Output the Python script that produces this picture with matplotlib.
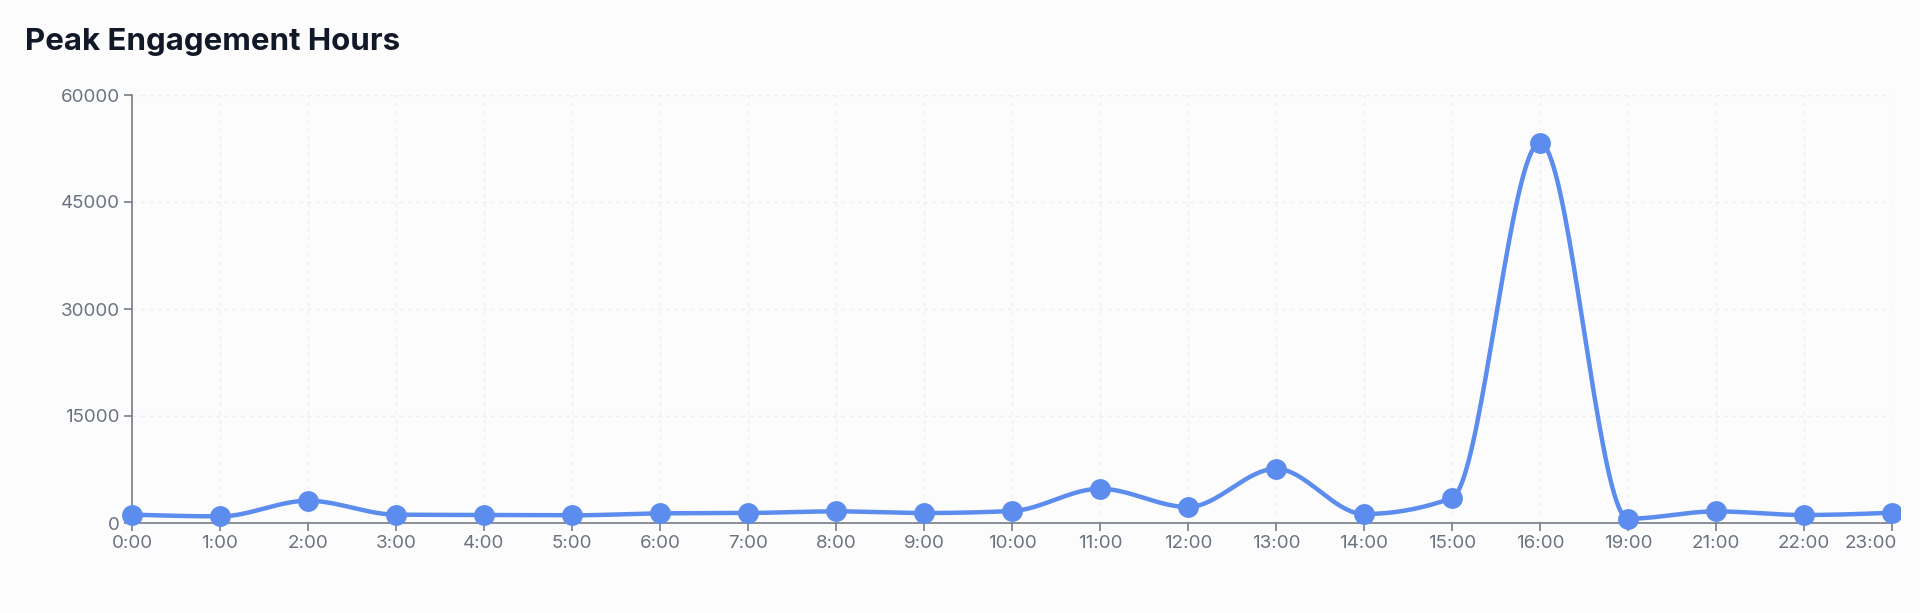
import numpy as np
import matplotlib

matplotlib.use("Agg")
import matplotlib.pyplot as plt
import matplotlib.transforms as mtransforms
from matplotlib.patches import Rectangle

plt.rcParams["font.family"] = ["Inter", "DejaVu Sans"]

# --- data ------------------------------------------------------------------
hours = ["0:00", "1:00", "2:00", "3:00", "4:00", "5:00", "6:00", "7:00",
         "8:00", "9:00", "10:00", "11:00", "12:00", "13:00", "14:00",
         "15:00", "16:00", "19:00", "21:00", "22:00", "23:00"]
engagement = [1170, 930, 3120, 1170, 1120, 1070, 1350, 1400,
              1630, 1400, 1680, 4800, 2240, 7600, 1260,
              3500, 53300, 600, 1630, 1120, 1440]
y_ticks = [0, 15000, 30000, 45000, 60000]

LINE = "#5b8cee"
AXIS = "#6b7280"
GRID = "#efefef"
BG = "#fcfcfc"
W, H = 1920, 613


def monotone_x(xs, ys, n=40):
    """Same shape as d3.curveMonotoneX: cubic Hermite with limited slopes."""
    xs = np.asarray(xs, float)
    ys = np.asarray(ys, float)
    h = np.diff(xs)
    s = np.diff(ys) / h
    m = np.zeros_like(ys)
    for i in range(1, len(ys) - 1):
        p = (s[i - 1] * h[i] + s[i] * h[i - 1]) / (h[i - 1] + h[i])
        m[i] = (np.sign(s[i - 1]) + np.sign(s[i])) * min(abs(s[i - 1]), abs(s[i]), 0.5 * abs(p))
    m[0] = (3 * s[0] - m[1]) / 2
    m[-1] = (3 * s[-1] - m[-2]) / 2
    px, py = [], []
    for i in range(len(xs) - 1):
        t = np.linspace(0, 1, n)
        h00 = 2 * t**3 - 3 * t**2 + 1
        h10 = t**3 - 2 * t**2 + t
        h01 = -2 * t**3 + 3 * t**2
        h11 = t**3 - t**2
        px.append(xs[i] + t * h[i])
        py.append(h00 * ys[i] + h10 * h[i] * m[i] + h01 * ys[i + 1] + h11 * h[i] * m[i + 1])
    return np.concatenate(px), np.concatenate(py)


x = np.arange(len(hours))
cx, cy = monotone_x(x, engagement)

fig = plt.figure(figsize=(W / 100, H / 100), dpi=100, facecolor=BG)
# axes box in pixels: x 132..1892, y 95..523
ax = fig.add_axes([132 / W, 1 - 523 / H, 1760 / W, 428 / H])
ax.set_facecolor(BG)

# the original drawing surface stops at x=1900 px, cutting the last dot
clip = Rectangle((0, 0), 1900 / W, 1, transform=fig.transFigure, visible=False)
fig.add_artist(clip)

ax.plot(cx, cy, color=LINE, lw=3.2, solid_capstyle="round", zorder=3)
dots, = ax.plot(x, engagement, "o", color=LINE, ms=15, mec="none", zorder=4)
dots.set_clip_path(clip)

ax.set_xlim(0, len(hours) - 1)
ax.set_ylim(0, 60000)
ax.set_xticks(x)
ax.set_xticklabels(hours)
ax.set_yticks(y_ticks)
ax.set_yticklabels([str(v) for v in y_ticks])

ax.grid(True, color=GRID, lw=1.0, ls=(0, (3, 3)), zorder=0)
for side in ("top", "right"):
    ax.spines[side].set_visible(False)
for side in ("left", "bottom"):
    ax.spines[side].set_color(AXIS)
    ax.spines[side].set_linewidth(1.1)
ax.tick_params(colors=AXIS, labelcolor=AXIS, labelsize=13.5, length=6, width=1.1, pad=3)

# last hour label is pushed left so it stays inside the surface
last = ax.get_xticklabels()[-1]
last.set_ha("right")
last.set_transform(last.get_transform() + mtransforms.ScaledTranslation(5 / 100, 0, fig.dpi_scale_trans))

fig.text(25 / W, 1 - 50 / H, "Peak Engagement Hours", fontsize=22.5, fontweight="bold",
         color="#111827", ha="left", va="baseline")

fig.savefig("out.png", dpi=100, facecolor=BG)
